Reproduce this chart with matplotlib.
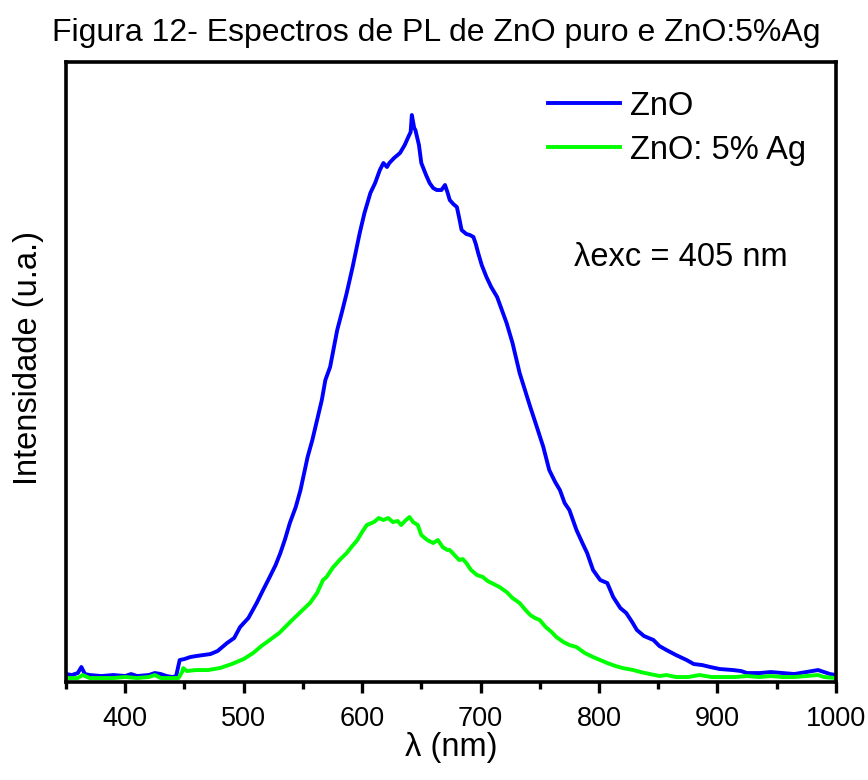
import matplotlib
matplotlib.use("Agg")
import matplotlib.pyplot as plt

plt.rcParams['font.family'] = ['Liberation Sans', 'DejaVu Sans']

# Wavelength (nm) and intensity (a.u.)
wl_zno = [350, 355, 360, 363, 366, 370, 380, 390, 400, 405, 410, 420, 425, 430, 435, 440, 443,
          446, 450, 455, 460, 466, 472, 478, 486, 492, 497, 504, 511, 516, 522, 527, 531, 535,
          539, 544, 548, 554, 558, 562, 566, 569, 573, 579, 583, 587, 592, 598, 602, 607, 611,
          615, 618, 621, 623, 627, 632, 636, 639, 641, 642, 644, 645, 648, 650, 654, 657, 660,
          663, 667, 670, 672, 674, 677, 680, 682, 684, 688, 691, 694, 696, 698, 701, 705, 709,
          714, 718, 722, 727, 730, 733, 738, 742, 747, 753, 758, 763, 767, 771, 775, 781, 786,
          790, 795, 801, 807, 812, 818, 823, 828, 832, 838, 846, 851, 857, 865, 874, 880, 887,
          894, 902, 913, 920, 925, 936, 945, 955, 965, 975, 985, 990, 995, 1000]
int_zno = [6, 5, 7, 13, 6, 5, 4, 5, 4, 6, 4, 5, 7, 6, 4, 3, 4,
           20, 21, 23, 24, 25, 26, 29, 37, 42, 53, 62, 77, 89, 103, 115, 127, 141,
           157, 173, 190, 223, 240, 260, 280, 300, 313, 350, 368, 387, 413, 447, 467, 487, 497,
           510, 517, 513, 517, 522, 527, 535, 543, 548, 565, 552, 550, 535, 517, 505, 497, 492,
           490, 490, 495, 488, 480, 476, 473, 462, 450, 446, 445, 443, 436, 427, 415, 403, 393,
           383, 370, 357, 337, 322, 307, 288, 273, 255, 233, 210, 198, 190, 177, 170, 150, 137,
           127, 110, 100, 97, 83, 72, 67, 58, 50, 44, 40, 34, 30, 25, 20, 16, 15,
           13, 11, 10, 9, 7, 7, 8, 7, 6, 8, 10, 8, 6, 5]

wl_ag = [350, 360, 364, 370, 380, 390, 400, 410, 420, 425, 430, 440, 445, 448, 449, 452, 460,
         470, 480, 490, 500, 508, 515, 522, 530, 541, 548, 556, 562, 567, 570, 575, 581, 587,
         591, 596, 600, 604, 610, 614, 618, 622, 626, 630, 633, 637, 640, 643, 647, 650, 655,
         660, 664, 668, 672, 674, 678, 682, 685, 688, 692, 697, 702, 706, 711, 716, 722, 727,
         733, 738, 742, 746, 750, 755, 760, 764, 770, 775, 781, 788, 795, 801, 807, 814, 820,
         829, 835, 843, 851, 857, 865, 875, 885, 895, 905, 915, 925, 935, 945, 955, 965, 975,
         985, 990, 1000]
int_ag = [2, 2, 5, 2, 2, 2, 3, 2, 3, 5, 2, 2, 2, 8, 12, 9, 10,
          10, 12, 16, 21, 27, 34, 40, 47, 60, 68, 77, 87, 100, 103, 112, 120, 127,
          133, 140, 148, 155, 158, 162, 160, 162, 158, 159, 155, 160, 163, 158, 155, 145, 140,
          137, 140, 133, 130, 130, 125, 120, 121, 117, 110, 105, 103, 99, 96, 93, 88, 82,
          77, 70, 65, 62, 60, 53, 48, 43, 38, 35, 33, 27, 23, 20, 17, 14, 12,
          10, 8, 6, 4, 5, 3, 3, 5, 3, 3, 3, 4, 3, 4, 3, 3, 4,
          5, 3, 2]

labels = ["ZnO", "ZnO: 5% Ag"]
title = "Figura 12- Espectros de PL de ZnO puro e ZnO:5%Ag"
x_ticks = [400, 500, 600, 700, 800, 900, 1000]
x_minor = [350, 450, 550, 650, 750, 850, 950]

fig = plt.figure(figsize=(8.68, 7.8), dpi=100)
ax = fig.add_axes([0.076, 0.1256, 0.887, 0.7949])

ax.plot(wl_zno, int_zno, color='#0000ff', lw=2.8, label=labels[0])
ax.plot(wl_ag, int_ag, color='#00ff00', lw=2.8, label=labels[1])

ax.set_xlim(350, 1000)
ax.set_ylim(-2, 618)
ax.set_xticks(x_ticks)
ax.set_xticks(x_minor, minor=True)
ax.set_yticks([])
ax.tick_params(axis='x', which='major', direction='out', length=8, width=2.4,
               labelsize=19.5, pad=9)
ax.tick_params(axis='x', which='minor', direction='out', length=5, width=2.4)
for s in ax.spines.values():
    s.set_linewidth(2.6)

ax.set_xlabel("λ (nm)", fontsize=23.5, labelpad=0)
ax.set_ylabel("Intensidade (u.a.)", fontsize=23.5)
ax.yaxis.set_label_coords(-0.029, 0.523)
fig.text(0.503, 0.958, title, ha='center', va='center', fontsize=23)

ax.legend(loc='upper left', bbox_to_anchor=(0.626, 0.954), frameon=False, fontsize=23.5,
          handlelength=2.2, handletextpad=0.3, labelspacing=0.4, borderaxespad=0,
          borderpad=0)
ax.text(0.799, 0.684, "λexc = 405 nm", transform=ax.transAxes, ha='center', va='center',
        fontsize=23.5)

fig.savefig("out.png", dpi=100)
